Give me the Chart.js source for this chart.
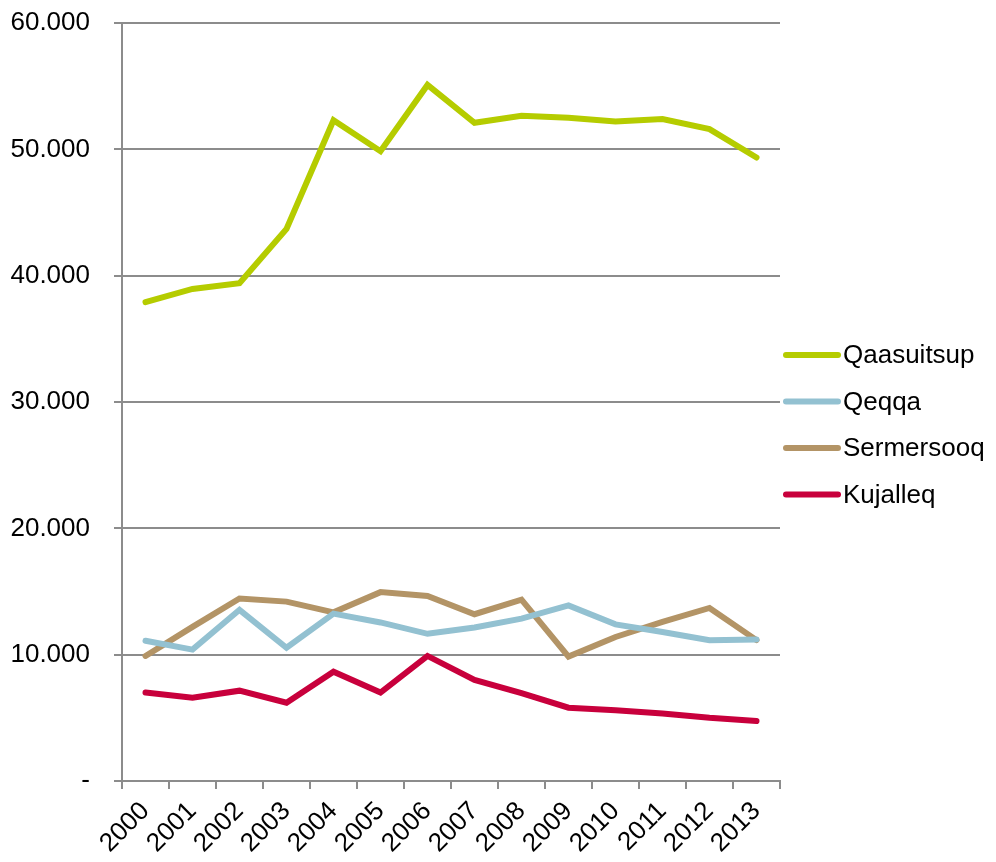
<!DOCTYPE html>
<html>
<head>
<meta charset="utf-8">
<script src="https://cdn.jsdelivr.net/npm/chart.js@4"></script>
<style>
  body { margin: 0; background: #fff; }
</style>
</head>
<body>
<canvas id="chart" width="996" height="862"></canvas>
<script>
const years = ["2000", "2001", "2002", "2003", "2004", "2005", "2006", "2007", "2008", "2009", "2010", "2011", "2012", "2013"];

const qaasuitsup = [37900, 38950, 39400, 43700, 52300, 49850, 55100, 52100, 52650, 52500, 52200, 52400, 51600, 49350];
const qeqqa = [11100, 10400, 13550, 10550, 13250, 12550, 11650, 12150, 12850, 13900, 12400, 11800, 11150, 11200];
const sermersooq = [9900, 12200, 14450, 14200, 13350, 14950, 14650, 13200, 14350, 9850, 11400, 12600, 13700, 11150];
const kujalleq = [7000, 6600, 7150, 6200, 8650, 7000, 9900, 8000, 6950, 5800, 5600, 5350, 5000, 4750];

const seriesNames = ["Qaasuitsup", "Qeqqa", "Sermersooq", "Kujalleq"];
const seriesColors = ["#b5cc00", "#93c1d1", "#b39466", "#c8003c"];

const FONT = "'Liberation Sans', Arial, sans-serif";
const AXIS_GRAY = "#8c8c8c";

// thousands with a dot, zero shown as a dash
function fmt(v) {
  if (v === 0) return "-";
  return String(v).replace(/\B(?=(\d{3})+(?!\d))/g, ".");
}

// legend drawn by hand so the line samples and spacing match
const sideLegend = {
  id: "sideLegend",
  afterDraw(chart) {
    const ctx = chart.ctx;
    const area = chart.chartArea;
    const x0 = area.right + 6;
    const y0 = 355;
    const step = 46.5;
    ctx.save();
    ctx.font = "26px " + FONT;
    ctx.textBaseline = "middle";
    ctx.textAlign = "left";
    chart.data.datasets.forEach((ds, i) => {
      const y = y0 + i * step;
      ctx.strokeStyle = ds.borderColor;
      ctx.lineWidth = 6;
      ctx.lineCap = "round";
      ctx.beginPath();
      ctx.moveTo(x0, y);
      ctx.lineTo(x0 + 52, y);
      ctx.stroke();
      ctx.fillStyle = "#000";
      ctx.fillText(ds.label, x0 + 57, y + 1);
    });
    ctx.restore();
  }
};

const allSeries = [qaasuitsup, qeqqa, sermersooq, kujalleq];

new Chart(document.getElementById("chart"), {
  type: "line",
  data: {
    labels: years,
    datasets: allSeries.map((vals, i) => ({
      label: seriesNames[i],
      data: vals,
      borderColor: seriesColors[i],
      backgroundColor: seriesColors[i],
      borderWidth: 6,
      borderCapStyle: "round",
      pointRadius: 0,
      tension: 0,
      fill: false
    }))
  },
  options: {
    responsive: false,
    animation: false,
    layout: { padding: { top: 23, right: 216, bottom: 0, left: 0 } },
    plugins: {
      legend: { display: false },
      tooltip: { enabled: false }
    },
    scales: {
      x: {
        offset: true,
        afterFit: (s) => { s.height = 81; },
        border: { color: AXIS_GRAY, width: 2 },
        grid: {
          offset: true,
          drawOnChartArea: false,
          drawTicks: true,
          tickLength: 8,
          color: AXIS_GRAY,
          lineWidth: 2
        },
        ticks: {
          color: "#000",
          font: { family: FONT, size: 26 },
          maxRotation: 45,
          minRotation: 45,
          autoSkip: false,
          padding: 7
        }
      },
      y: {
        min: 0,
        max: 60000,
        // fixed width; tick padding would otherwise push the top down too
        afterFit: (s) => {
          s.width = 122;
          s.paddingTop = 16;
          s.paddingBottom = 16;
        },
        border: { color: AXIS_GRAY, width: 2 },
        grid: {
          color: AXIS_GRAY,
          lineWidth: 2,
          tickLength: 8
        },
        ticks: {
          stepSize: 10000,
          color: "#000",
          font: { family: FONT, size: 26 },
          padding: 24,
          callback: (v) => fmt(v)
        }
      }
    }
  },
  plugins: [sideLegend]
});
</script>
</body>
</html>
